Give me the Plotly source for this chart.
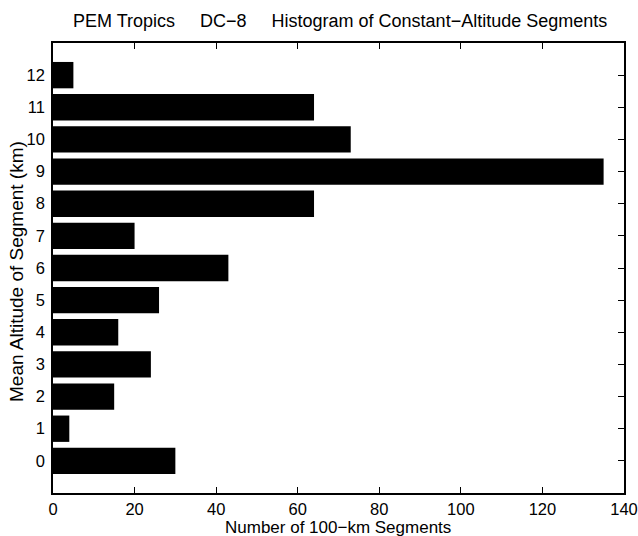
import plotly.graph_objects as go

altitudes = [0, 1, 2, 3, 4, 5, 6, 7, 8, 9, 10, 11, 12]
counts = [30, 4, 15, 24, 16, 26, 43, 20, 64, 135, 73, 64, 5]
x_ticks = [0, 20, 40, 60, 80, 100, 120, 140]

title_text = "PEM Tropics\u00a0\u00a0\u00a0\u00a0\u00a0DC\u22128\u00a0\u00a0\u00a0\u00a0\u00a0Histogram of Constant\u2212Altitude Segments"
x_title = "Number of 100\u2212km Segments"
y_title = "Mean Altitude of Segment (km)"

W, H = 638, 536
L, R, T, B = 53, 14, 43, 43
font = "Liberation Sans, Arial, sans-serif"

fig = go.Figure(go.Bar(
    x=counts, y=altitudes, orientation="h",
    width=0.82, marker=dict(color="black", line=dict(width=0)),
))

axis_common = dict(
    showgrid=False, zeroline=False, showline=True, linecolor="black", linewidth=1.5,
    mirror="ticks", ticks="inside", ticklen=6, tickwidth=1, tickcolor="black",
    tickfont=dict(family=font, size=16.5, color="black"),
    ticklabeloverflow="allow", automargin=False,
)

fig.update_xaxes(range=[0, 140], tickvals=x_ticks, ticktext=[str(v) for v in x_ticks], **axis_common)
fig.update_yaxes(range=[-1, 13], tickvals=altitudes, ticktext=[str(v) for v in altitudes], ticklabelstandoff=3, **axis_common)

pw = W - L - R
ph = H - T - B
fig.update_layout(
    width=W, height=H, margin=dict(l=L, r=R, t=T, b=B, pad=0, autoexpand=False),
    plot_bgcolor="white", paper_bgcolor="white", showlegend=False,
    font=dict(family=font, color="black"),
    annotations=[
        dict(text=title_text, xref="paper", yref="paper",
             x=(340 - L) / pw, y=1 + (T - 21) / ph, xanchor="center", yanchor="middle",
             showarrow=False, font=dict(size=18, family=font, color="black")),
        dict(text=x_title, xref="paper", yref="paper",
             x=(338 - L) / pw, y=-(527.5 - (H - B)) / ph, xanchor="center", yanchor="middle",
             showarrow=False, font=dict(size=17, family=font, color="black")),
        dict(text=y_title, xref="paper", yref="paper", textangle=-90,
             x=(16 - L) / pw, y=(H - B - 272) / ph, xanchor="center", yanchor="middle",
             showarrow=False, font=dict(size=19, family=font, color="black")),
    ],
)

fig.write_html("out.html")
